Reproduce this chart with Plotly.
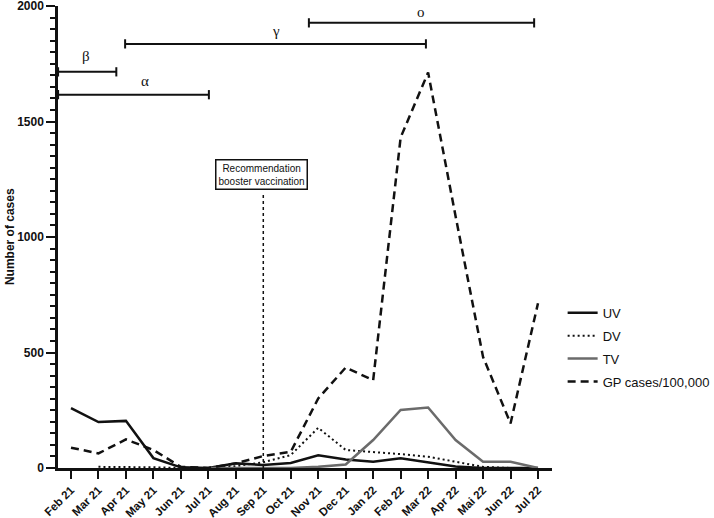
import plotly.graph_objects as go

months = ["Feb 21", "Mar 21", "Apr 21", "May 21", "Jun 21", "Jul 21", "Aug 21", "Sep 21",
          "Oct 21", "Nov 21", "Dec 21", "Jan 22", "Feb 22", "Mar 22", "Apr 22", "Mai 22",
          "Jun 22", "Jul 22"]
uv = [259, 199, 204, 43, 3, 0, 20, 13, 22, 55, 37, 27, 42, 23, 6, 0, 0, 0]
dv = [None, 5, 5, 3, 0, 0, 8, 25, 56, 174, 78, 70, 60, 49, 27, 5, 0, 0]
tv = [None, None, None, None, None, 0, 0, 0, 0, 5, 15, 121, 251, 262, 121, 27, 27, 0]
gp = [88, 63, 124, 78, 5, 0, 20, 52, 70, 301, 435, 380, 1431, 1712, 1090, 481, 193, 713]

# variant periods: (label, start, end, bar level, label x, label y)
variants = [
    ("β", -0.47, 1.65, 1715, 0.55, 1784),
    ("α", -0.47, 5.02, 1616, 2.7, 1676),
    ("γ", 1.97, 12.92, 1836, 7.46, 1892),
    ("o", 8.66, 16.86, 1927, 12.74, 1974),
]
booster_month = 7
booster_text = "Recommendation<br>booster vaccination"
y_title = "Number of cases"

FONT = "Arial, Liberation Sans, sans-serif"

fig = go.Figure()
fig.add_trace(go.Scatter(x=months, y=uv, name="UV", mode="lines", legendgroup="a",
                         line=dict(color="#111111", width=2.5)))
fig.add_trace(go.Scatter(x=months, y=dv, name="DV", mode="lines", legendgroup="b",
                         line=dict(color="#111111", width=2, dash="2px,3px")))
fig.add_trace(go.Scatter(x=months, y=tv, name="TV", mode="lines", legendgroup="c",
                         line=dict(color="#6b6b6b", width=2.5)))
fig.add_trace(go.Scatter(x=months, y=gp, name="GP cases/100,000", mode="lines", legendgroup="d",
                         line=dict(color="#111111", width=2.5, dash="8px,5px")))

shapes = []
for lab, x0, x1, yv, lx, ly in variants:
    shapes.append(dict(type="line", xref="x", yref="y", x0=x0, x1=x1, y0=yv, y1=yv,
                       line=dict(color="#111111", width=2)))
    for xx in (x0, x1):
        shapes.append(dict(type="line", xref="x", yref="y", x0=xx, x1=xx, y0=yv - 20, y1=yv + 20,
                           line=dict(color="#111111", width=2)))
shapes.append(dict(type="line", xref="x", yref="y", x0=booster_month, x1=booster_month,
                   y0=0, y1=1193, line=dict(color="#111111", width=1.5, dash="dot")))

annotations = []
for lab, x0, x1, yv, lx, ly in variants:
    annotations.append(dict(x=lx, y=ly, xref="x", yref="y", text=lab, showarrow=False,
                            font=dict(family="Liberation Serif, DejaVu Serif, serif", size=15,
                                      color="#111111")))
annotations.append(dict(x=booster_month - 0.05, y=1270, xref="x", yref="y", text=booster_text,
                        showarrow=False, bordercolor="#111111", borderwidth=1.5, borderpad=2,
                        bgcolor="white", font=dict(family=FONT, size=10, color="#111111")))
annotations.append(dict(x=-0.097, y=0.5, xref="paper", yref="paper", text=y_title,
                        textangle=-90, showarrow=False, xanchor="center", yanchor="middle",
                        font=dict(family=FONT, size=12, color="#111111", weight="bold")))

fig.update_layout(
    width=714, height=518,
    margin=dict(l=58, r=162, t=6, b=50),
    paper_bgcolor="white", plot_bgcolor="white",
    font=dict(family=FONT, color="#111111"),
    shapes=shapes, annotations=annotations,
    showlegend=True,
    legend=dict(xref="container", yref="container", x=0.788, y=0.425,
                xanchor="left", yanchor="top", tracegroupgap=3,
                font=dict(family=FONT, size=13, color="#111111"), bgcolor="rgba(0,0,0,0)"),
)
fig.update_xaxes(
    type="category", range=[-0.473, 17.51], showgrid=False, zeroline=False,
    showline=True, linecolor="#111111", linewidth=2.5,
    ticks="outside", ticklen=8, tickwidth=2, tickcolor="#111111",
    tickangle=-45, tickfont=dict(family=FONT, size=11.5, color="#111111", weight="bold"),
    ticklabeloverflow="allow", automargin=False,
)
fig.update_yaxes(
    range=[0, 2000], showgrid=False, zeroline=False,
    showline=True, linecolor="#111111", linewidth=2.5,
    tickvals=[0, 500, 1000, 1500, 2000],
    ticks="outside", ticklen=9, tickwidth=2, tickcolor="#111111",
    minor=dict(dtick=50, ticks="outside", ticklen=5, tickwidth=2, tickcolor="#111111"),
    tickfont=dict(family=FONT, size=12, color="#111111", weight="bold"),
    ticklabeloverflow="allow",
    automargin=False,
)

fig.write_html("out.html", config={"displayModeBar": False},
               post_script="document.body.style.margin='0px';")
